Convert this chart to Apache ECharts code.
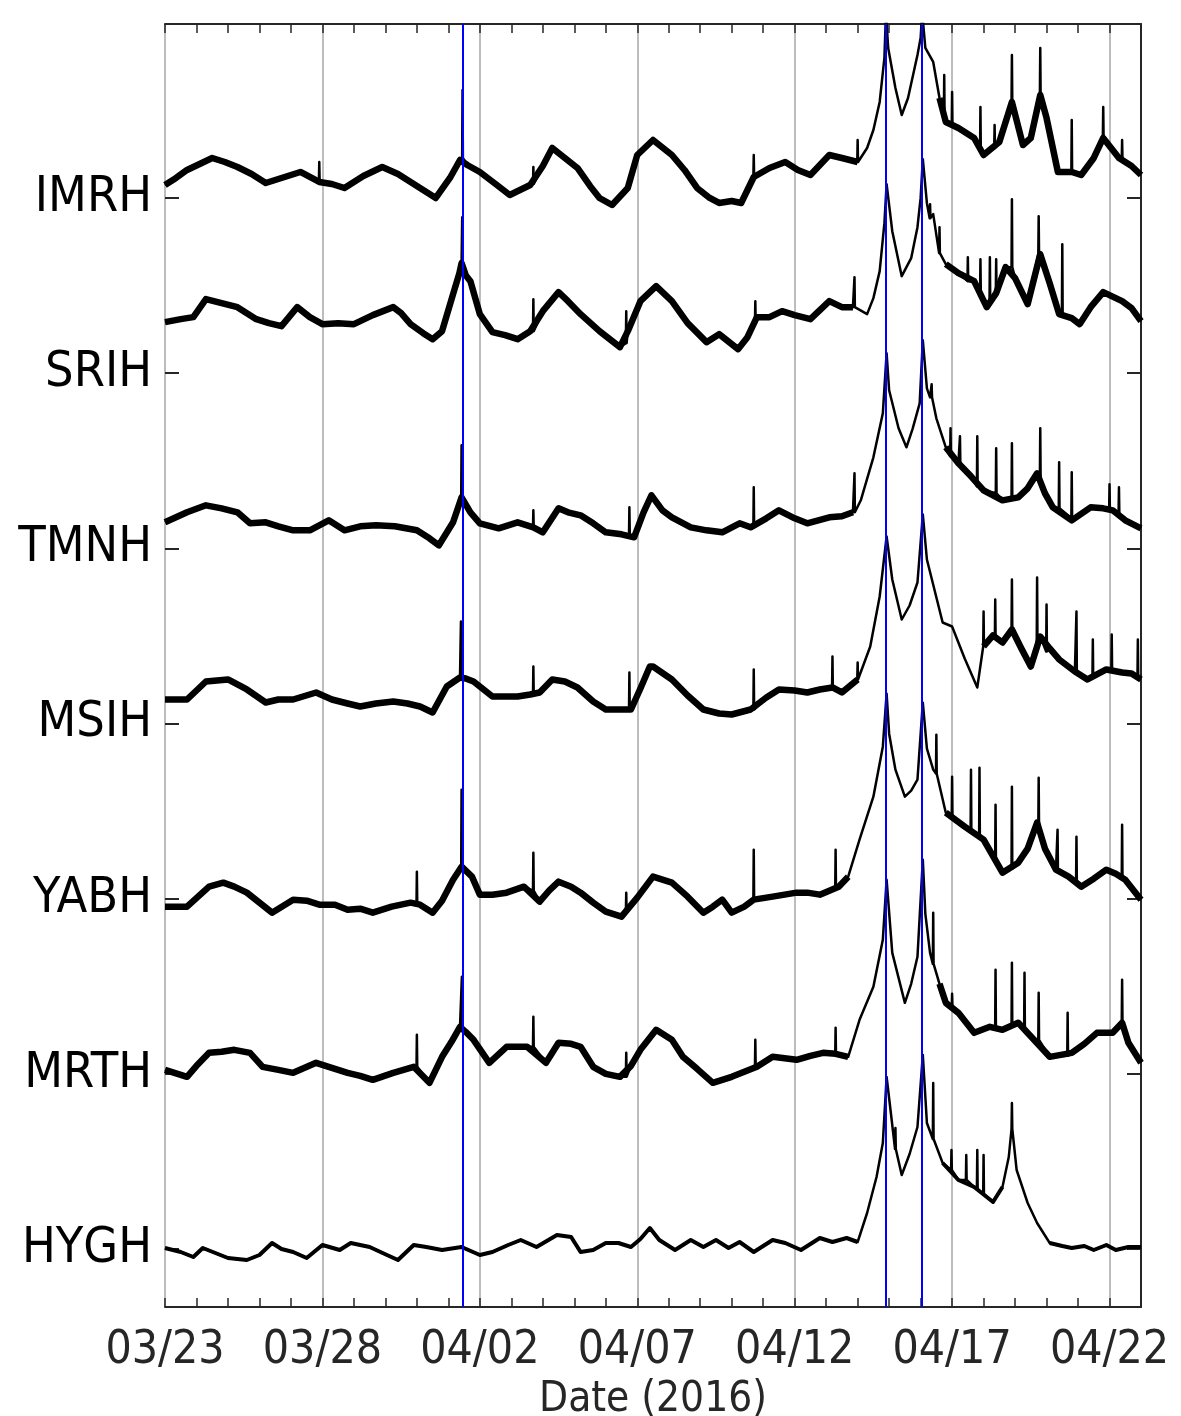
<!DOCTYPE html>
<html>
<head>
<meta charset="utf-8">
<script src="https://cdn.jsdelivr.net/npm/echarts@6/dist/echarts.min.js"></script>
<style>
  html, body { margin: 0; padding: 0; background: #fff; }
  #chart { width: 1181px; height: 1416px; }
</style>
</head>
<body>
<div id="chart"></div>
<script>
// stations from top to bottom
const stations = ['IMRH', 'SRIH', 'TMNH', 'MSIH', 'YABH', 'MRTH', 'HYGH'];
const xTickLabels = ['03/23', '03/28', '04/02', '04/07', '04/12', '04/17', '04/22'];
// event times, days since 03/23 00:00
const quakeDays = [9.46, 22.9, 24.05];
// spacing between station baselines
const GAP = 175.17;

// [day, amplitude] (amplitude above the station tick)
const imrh = [[0,13],[0.35,20],[0.7,28],[1.1,34],[1.5,40],[1.9,36],[2.3,31],[2.75,24],[3.2,15],[3.7,20],[4.3,26],[4.9,16],[5.3,14],[5.7,10],[6.3,22],[6.9,31],[7.4,24],[7.8,16],[8.2,8],[8.6,0],[9.05,20],[9.37,38],[9.6,33],[10.0,26],[10.5,14],[10.95,3],[11.6,13],[12.0,32],[12.3,50],[12.7,40],[13.1,30],[13.5,12],[13.8,0],[14.2,-7],[14.7,10],[15.0,43],[15.5,58],[16.1,43],[16.5,28],[16.9,10],[17.3,0],[17.6,-5],[18.0,-3],[18.3,-5],[18.7,21],[19.2,30],[19.7,36],[20.1,28],[20.5,23],[21.1,43],[21.5,40],[22.0,36],[22.3,50],[22.5,68],[22.7,96],[22.85,140],[22.9,185],[22.97,150],[23.2,110],[23.4,83],[23.6,100],[23.9,143],[24.0,160],[24.05,185],[24.15,150],[24.4,136],[24.6,100],[24.8,76],[25.2,70],[25.7,60],[26.0,43],[26.5,56],[26.9,96],[27.25,53],[27.5,60],[27.8,103],[28.0,80],[28.36,26],[28.8,26],[29.1,23],[29.5,40],[29.8,60],[30.3,40],[30.7,32],[31,23]];
const srih = [[0,51],[0.5,54],[0.9,56],[1.3,74],[1.8,70],[2.3,66],[2.9,54],[3.3,50],[3.7,47],[4.2,66],[4.6,56],[5.0,49],[5.5,50],[6.0,49],[6.6,58],[7.25,66],[7.5,60],[7.8,49],[8.2,40],[8.5,34],[8.8,42],[9.15,79],[9.35,100],[9.42,110],[9.55,98],[9.7,92],[10.0,59],[10.4,41],[10.8,38],[11.2,34],[11.6,42],[12.0,62],[12.5,81],[12.8,72],[13.2,59],[13.8,42],[14.45,26],[14.7,42],[15.1,72],[15.6,87],[16.1,72],[16.6,50],[17.2,31],[17.6,39],[18.2,24],[18.5,36],[18.8,56],[19.2,56],[19.6,62],[20.0,58],[20.5,54],[21.1,72],[21.5,66],[21.85,66],[22.3,59],[22.5,75],[22.7,102],[22.85,150],[22.92,189],[23.1,142],[23.4,97],[23.7,115],[23.9,146],[24.0,175],[24.07,214],[24.2,170],[24.4,159],[24.8,109],[25.2,100],[25.7,92],[26.1,66],[26.4,80],[26.7,106],[27.0,95],[27.4,69],[27.8,119],[28.1,90],[28.4,59],[28.8,55],[29.05,49],[29.4,66],[29.8,81],[30.4,72],[30.7,65],[31,52]];
const tmnh = [[0,26],[0.7,36],[1.3,43],[1.8,40],[2.3,36],[2.7,25],[3.2,26],[3.6,22],[4.07,18],[4.6,18],[5.2,28],[5.7,18],[6.2,22],[6.7,23],[7.3,22],[8.0,18],[8.4,10],[8.7,3],[9.15,26],[9.42,51],[9.7,36],[10.0,25],[10.6,20],[11.2,26],[11.7,21],[12.0,16],[12.5,40],[12.8,36],[13.2,33],[13.6,25],[14.0,16],[14.5,14],[14.9,11],[15.2,36],[15.45,53],[15.8,38],[16.1,31],[16.7,21],[17.2,18],[17.7,16],[18.25,25],[18.6,21],[19.1,30],[19.5,38],[20.0,30],[20.4,25],[21.1,31],[21.5,32],[21.85,36],[22.1,48],[22.5,91],[22.8,135],[22.92,195],[23.0,158],[23.3,120],[23.55,101],[23.75,120],[23.97,145],[24.07,208],[24.2,160],[24.3,151],[24.5,130],[24.8,101],[25.2,85],[25.6,72],[26.0,58],[26.6,48],[27.1,51],[27.4,60],[27.7,75],[27.95,55],[28.2,41],[28.8,28],[29.4,41],[29.8,40],[30.1,38],[30.5,28],[31,20]];
const msih = [[0,24],[0.7,24],[1.3,42],[2.0,44],[2.6,34],[3.2,21],[3.6,24],[4.07,24],[4.8,31],[5.3,24],[5.8,20],[6.2,17],[6.7,20],[7.25,22],[7.7,20],[8.1,17],[8.5,11],[8.95,37],[9.37,46],[9.55,45],[9.8,42],[10.4,27],[11.2,27],[11.6,29],[11.9,31],[12.3,44],[12.7,42],[13.1,36],[13.6,22],[14.0,14],[14.8,14],[15.1,35],[15.4,57],[15.5,57],[16.1,44],[16.6,28],[17.1,14],[17.6,10],[18.0,9],[18.6,14],[19.1,26],[19.5,34],[20.0,33],[20.4,31],[20.8,34],[21.2,36],[21.5,31],[22.0,44],[22.4,77],[22.7,127],[22.92,187],[23.1,144],[23.4,104],[23.65,118],[23.9,141],[24.07,209],[24.2,164],[24.7,101],[25.0,97],[25.4,65],[25.8,36],[26.0,77],[26.3,88],[26.6,81],[26.9,94],[27.2,75],[27.5,57],[27.8,87],[28.1,75],[28.4,64],[28.9,52],[29.3,44],[29.9,54],[30.4,51],[30.7,50],[31,44]];
const yabh = [[0,-8],[0.7,-8],[1.4,12],[1.85,16],[2.2,12],[2.6,6],[3.0,-4],[3.4,-14],[4.07,-1],[4.5,-2],[4.9,-6],[5.4,-6],[5.8,-11],[6.2,-10],[6.6,-14],[7.2,-8],[7.8,-4],[8.1,-6],[8.5,-14],[8.8,-2],[9.15,19],[9.42,32],[9.75,22],[10.0,4],[10.4,4],[10.85,6],[11.4,12],[11.9,-3],[12.2,8],[12.5,17],[12.9,12],[13.2,6],[13.6,-4],[14.0,-13],[14.5,-18],[15.0,1],[15.5,22],[16.1,16],[16.6,2],[17.1,-14],[17.4,-8],[17.7,-1],[18.0,-14],[18.4,-8],[18.7,-1],[19.3,2],[20.06,6],[20.4,6],[20.8,4],[21.4,12],[21.7,22],[22.06,59],[22.5,102],[22.8,152],[22.92,205],[23.0,165],[23.2,129],[23.5,102],[23.7,108],[23.9,119],[24.07,196],[24.2,150],[24.4,129],[24.8,86],[25.4,72],[26.0,59],[26.6,26],[27.1,36],[27.4,50],[27.7,76],[27.95,50],[28.3,29],[28.7,22],[29.1,12],[29.5,20],[29.9,29],[30.2,25],[30.5,19],[31,-1]];
const mrth = [[0,4],[0.4,0],[0.7,-3],[1.0,8],[1.4,21],[1.8,22],[2.2,24],[2.7,21],[3.1,7],[3.6,4],[4.07,1],[4.8,11],[5.3,6],[5.8,1],[6.2,-2],[6.6,-6],[7.25,1],[7.9,7],[8.4,-9],[8.8,17],[9.1,32],[9.37,47],[9.55,42],[9.8,34],[10.3,11],[10.85,27],[11.5,27],[12.1,11],[12.5,31],[12.9,30],[13.2,27],[13.6,7],[14.0,0],[14.45,-3],[14.8,8],[15.1,24],[15.6,44],[16.1,34],[16.45,17],[16.9,5],[17.4,-9],[18.0,-3],[18.4,2],[18.8,7],[19.3,17],[20.06,14],[20.5,18],[20.9,21],[21.3,20],[21.7,17],[22.06,54],[22.5,87],[22.8,134],[22.92,194],[23.1,121],[23.5,71],[23.7,90],[23.9,117],[24.07,214],[24.15,160],[24.3,121],[24.6,90],[24.8,71],[25.2,61],[25.7,41],[26.2,47],[26.6,44],[27.1,51],[27.6,34],[28.1,17],[28.8,21],[29.2,30],[29.6,41],[30.1,41],[30.4,51],[30.6,31],[31,11]];
const hygh = [[0,1],[0.5,-3],[0.9,-8],[1.2,1],[1.6,-4],[2.0,-9],[2.6,-11],[3.0,-6],[3.4,6],[3.7,0],[4.07,-3],[4.5,-9],[5.0,4],[5.55,-1],[5.9,6],[6.5,2],[7.05,-6],[7.4,-11],[7.9,4],[8.3,2],[8.8,-1],[9.42,2],[10.0,-6],[10.4,-3],[10.9,4],[11.3,9],[11.8,2],[12.45,14],[12.9,12],[13.2,-3],[13.6,-1],[14.0,6],[14.4,6],[14.8,2],[15.1,10],[15.4,21],[15.7,9],[16.2,-1],[16.7,9],[17.1,2],[17.5,9],[17.9,1],[18.25,7],[18.7,-3],[19.3,9],[19.7,6],[20.2,-1],[20.8,11],[21.2,7],[21.65,11],[22.0,7],[22.3,36],[22.6,72],[22.8,106],[22.92,172],[23.07,132],[23.4,74],[23.65,95],[23.9,122],[24.07,194],[24.2,126],[24.7,86],[25.2,69],[25.7,62],[26.3,47],[26.6,62],[26.8,92],[26.9,120],[27.05,79],[27.4,46],[27.7,26],[28.1,6],[28.5,3],[28.8,1],[29.2,3],[29.5,-1],[29.9,4],[30.2,-1],[30.6,2],[31,2]];

// narrow spikes: [day, level at foot, level at tip]
const imrhSpikes = [[4.9,16,36],[9.45,40,108],[11.7,14,31],[18.7,21,43],[22.0,36,58],[24.75,80,123],[25.0,72,106],[25.9,48,91],[26.35,50,73],[26.9,96,143],[27.8,103,150],[28.8,26,78],[29.8,60,91],[30.4,38,58]];
const srihSpikes = [[9.44,110,156],[11.7,42,74],[14.65,30,62],[18.75,50,72],[21.9,66,96],[24.3,155,169],[24.6,120,146],[25.5,92,116],[25.9,80,114],[26.2,70,116],[26.4,80,114],[26.9,106,174],[27.75,119,157],[28.5,59,129]];
const tmnhSpikes = [[9.42,51,103],[11.7,21,38],[14.75,14,41],[18.7,21,61],[21.9,36,75],[24.35,151,164],[24.95,92,120],[25.25,85,112],[25.8,62,112],[26.4,55,100],[26.9,50,105],[27.8,70,120],[28.4,40,86],[28.8,30,76],[30.0,38,64],[30.3,35,61]];
const msihSpikes = [[9.4,46,102],[11.7,28,57],[14.75,14,51],[18.7,14,54],[21.2,36,67],[22.0,44,61],[26.0,77,112],[26.37,85,124],[26.9,94,144],[27.7,80,146],[28.0,72,119],[28.95,52,112],[29.47,46,84],[30.07,54,89],[30.9,46,84]];
const yabhSpikes = [[8.0,-5,27],[9.42,32,109],[11.7,8,46],[14.65,-14,6],[18.7,-1,49],[21.3,10,49],[24.5,125,164],[25.0,82,122],[25.6,68,129],[25.87,62,131],[26.38,40,94],[26.9,30,112],[27.75,70,121],[28.35,29,69],[28.95,18,62],[30.4,20,74]];
const mrthSpikes = [[8.0,7,39],[9.43,47,97],[11.7,27,57],[14.65,-3,21],[18.75,7,34],[21.3,20,46],[24.4,110,161],[25.0,66,80],[26.38,45,104],[26.9,47,111],[27.3,45,101],[27.75,34,81],[28.67,18,61],[30.4,51,94]];
const hyghSpikes = [[23.2,100,121],[24.4,110,166],[24.98,79,99],[25.45,69,94],[25.8,60,99],[26.0,55,94],[26.9,120,146]];

const traces = [imrh, srih, tmnh, msih, yabh, mrth, hygh];
const spikes = [imrhSpikes, srihSpikes, tmnhSpikes, msihSpikes, yabhSpikes, mrthSpikes, hyghSpikes];

const stationPos = stations.map((s, i) => (stations.length - 1 - i) * GAP);

// noisy stretches are drawn as a heavier band, the fast rises/decays stay thin
const thinSpans = {
  IMRH: [[22.02, 24.55]], SRIH: [[22.02, 24.55]], TMNH: [[22.02, 24.55]],
  MSIH: [[22.02, 25.95]], YABH: [[22.02, 24.55]], MRTH: [[22.02, 24.55]],
  HYGH: [[22.02, 24.55], [26.7, 28.0]]
};

function buildSeries(idx) {
  const base = stationPos[idx];
  let pts = traces[idx].map(p => [p[0], base + p[1]]);
  spikes[idx].forEach(s => {
    pts.push([s[0] - 0.012, base + s[1]]);
    pts.push([s[0], base + s[2]]);
    pts.push([s[0] + 0.012, base + s[1]]);
  });
  pts.sort((a, b) => a[0] - b[0]);
  return pts;
}

function buildBand(idx) {
  const base = stationPos[idx];
  const spans = thinSpans[stations[idx]];
  const out = [];
  let inGap = false;
  traces[idx].forEach(p => {
    const thin = spans.some(s => p[0] > s[0] && p[0] < s[1]);
    if (thin) {
      if (!inGap) { out.push([p[0], null]); inGap = true; }
      return;
    }
    inGap = false;
    out.push([p[0], base + p[1]]);
  });
  return out;
}

const chart = echarts.init(document.getElementById('chart'), null, { renderer: 'canvas' });

const tickFont = "'DejaVu Sans Condensed', 'DejaVu Sans', sans-serif";
const dark = '#262626';

const series = [{
  type: 'line',
  data: [],
  z: 1,
  silent: true,
  markLine: {
    symbol: 'none',
    silent: true,
    animation: false,
    label: { show: false },
    lineStyle: { color: '#0000ff', width: 2, type: 'solid' },
    data: quakeDays.map(d => ({ xAxis: d }))
  }
}];
stations.forEach((name, i) => {
  series.push({
    name: name,
    type: 'line',
    data: buildSeries(i),
    showSymbol: false,
    symbol: 'none',
    z: 2,
    lineStyle: { color: '#000', width: 2.5, join: 'round' }
  });
  series.push({
    name: name + ' band',
    type: 'line',
    data: buildBand(i),
    connectNulls: false,
    showSymbol: false,
    symbol: 'none',
    silent: true,
    z: 2,
    lineStyle: { color: '#000', width: name === 'HYGH' ? 4 : 6.5, join: 'round' }
  });
});

const option = {
  animation: false,
  backgroundColor: '#fff',
  grid: { left: 165, right: 40, top: 24, bottom: 109, outerBoundsMode: 'none', containLabel: false },
  xAxis: [{
    type: 'value',
    min: 0,
    max: 31,
    interval: 5,
    position: 'bottom',
    axisLine: { show: true, onZero: false, lineStyle: { color: dark, width: 2 } },
    axisTick: { show: true, inside: true, length: 9, lineStyle: { color: dark, width: 1.5 } },
    minorTick: { show: true, splitNumber: 5, length: 9, lineStyle: { color: dark, width: 1.5 } },
    splitLine: { show: true, lineStyle: { color: '#bdbdbd', width: 2 } },
    axisLabel: {
      fontSize: 46,
      fontFamily: tickFont,
      color: dark,
      margin: 21,
      formatter: v => (v % 5 === 0 ? xTickLabels[v / 5] : '')
    },
    name: 'Date (2016)',
    nameLocation: 'middle',
    nameGap: 48,
    nameTextStyle: { fontSize: 42, fontFamily: tickFont, color: dark }
  }, {
    type: 'value',
    min: 0,
    max: 31,
    interval: 5,
    position: 'top',
    axisLine: { show: true, onZero: false, lineStyle: { color: dark, width: 2 } },
    axisTick: { show: true, inside: true, length: 9, lineStyle: { color: dark, width: 1.5 } },
    minorTick: { show: true, splitNumber: 5, length: 9, lineStyle: { color: dark, width: 1.5 } },
    splitLine: { show: false },
    axisLabel: { show: false }
  }],
  yAxis: [{
    type: 'value',
    min: -58,
    max: 1225,
    position: 'left',
    axisLine: { show: false, onZero: false },
    splitLine: { show: false },
    axisTick: { show: true, inside: true, length: 14, customValues: stationPos, lineStyle: { color: dark, width: 2 } },
    axisLabel: {
      customValues: stationPos,
      fontSize: 50,
      fontFamily: tickFont,
      color: '#000',
      margin: 13,
      formatter: v => stations[stations.length - 1 - Math.round(v / GAP)]
    }
  }, {
    type: 'value',
    min: -58,
    max: 1225,
    position: 'right',
    axisLine: { show: true, onZero: false, lineStyle: { color: dark, width: 2 } },
    splitLine: { show: false },
    axisTick: { show: true, inside: true, length: 14, customValues: stationPos, lineStyle: { color: dark, width: 2 } },
    axisLabel: { show: false }
  }],
  series: series
};

chart.setOption(option);
</script>
</body>
</html>
